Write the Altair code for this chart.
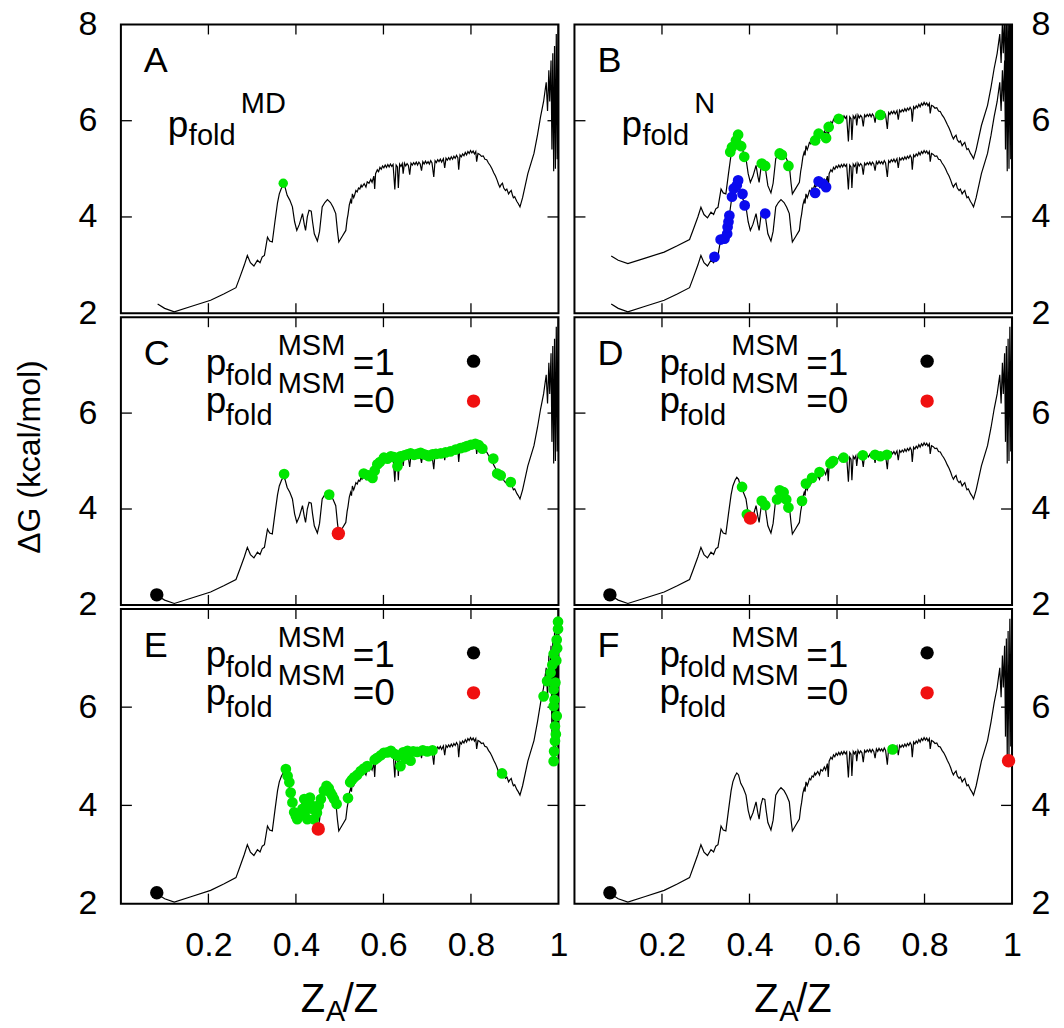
import altair as alt
import pandas as pd

FONT = "Liberation Sans"

# ---- free-energy profile dG(Z_A/Z) (kcal/mol) ----
curve_x = [0.084, 0.100, 0.122, 0.160, 0.205, 0.235, 0.263, 0.272, 0.282, 0.289,
           0.296, 0.304, 0.312, 0.318, 0.323, 0.328, 0.335, 0.340, 0.346, 0.352,
           0.358, 0.362, 0.367, 0.371, 0.375, 0.380, 0.386, 0.392, 0.397, 0.402,
           0.408, 0.415, 0.419, 0.422, 0.426, 0.430, 0.435, 0.438, 0.442, 0.449,
           0.454, 0.460, 0.466, 0.472, 0.479, 0.485, 0.491, 0.495, 0.498, 0.506,
           0.514, 0.517, 0.519, 0.522, 0.525, 0.527, 0.529, 0.532, 0.534, 0.537,
           0.540, 0.543, 0.546, 0.549, 0.551,
           0.556, 0.560, 0.563, 0.567, 0.571, 0.574, 0.578, 0.580, 0.582, 0.586,
           0.589, 0.592, 0.595, 0.598, 0.601, 0.604, 0.607, 0.610, 0.613, 0.616,
           0.619, 0.622, 0.626, 0.629, 0.632, 0.634, 0.637, 0.640, 0.643, 0.645,
           0.648, 0.651, 0.654, 0.657, 0.660, 0.663, 0.666, 0.669, 0.672, 0.675,
           0.678, 0.681, 0.684, 0.687, 0.690, 0.693, 0.696, 0.699, 0.702, 0.705,
           0.708, 0.711, 0.715, 0.718, 0.721, 0.724, 0.727, 0.730, 0.733, 0.737,
           0.740, 0.743, 0.746, 0.749, 0.752, 0.755, 0.758, 0.761, 0.764, 0.767,
           0.770, 0.772, 0.775, 0.778, 0.781, 0.784, 0.787, 0.790, 0.793, 0.796,
           0.799, 0.802, 0.805, 0.808, 0.811, 0.813, 0.816, 0.820, 0.824, 0.828,
           0.832, 0.836, 0.840, 0.844, 0.848, 0.852, 0.856, 0.860, 0.863, 0.866,
           0.869, 0.872, 0.875, 0.879, 0.882, 0.886, 0.889, 0.892, 0.895, 0.897,
           0.900, 0.902, 0.905, 0.908, 0.912, 0.918, 0.930, 0.944, 0.952, 0.959,
           0.966, 0.972, 0.975, 0.978, 0.980, 0.983, 0.985, 0.987, 0.989, 0.991,
           0.993, 0.995, 0.997, 0.999, 1.000]
curve_y = [2.19, 2.10, 2.03, 2.14, 2.27, 2.40, 2.53, 2.75, 3.00, 3.20,
           3.05, 2.98, 3.10, 3.05, 3.17, 3.20, 3.58, 3.50, 3.48, 3.90,
           4.30, 4.48, 4.60, 4.66, 4.62, 4.45, 4.35, 4.21, 3.90, 3.72,
           3.85, 4.07, 3.85, 3.72, 4.00, 4.14, 4.12, 3.90, 3.65, 3.50,
           3.70, 4.21, 4.30, 4.36, 4.30, 4.20, 4.07, 3.70, 3.48, 3.60,
           3.72, 3.95, 4.05, 4.25, 4.35, 4.28, 4.48, 4.40, 4.45, 4.55,
           4.52, 4.60, 4.58, 4.66, 4.62,
           4.69, 4.62, 4.73, 4.70, 4.78, 4.72, 4.85, 4.58, 4.90, 4.98,
           4.94, 5.03, 4.99, 5.06, 5.02, 5.08, 5.03, 5.09, 5.04, 5.10,
           5.05, 5.09, 4.57, 5.08, 5.04, 4.60, 5.10, 5.05, 5.11, 4.90,
           5.12, 5.06, 5.11, 5.07, 4.88, 5.12, 5.08, 5.13, 5.09, 5.14,
           5.08, 5.14, 5.10, 4.96, 5.15, 5.10, 5.16, 5.11, 5.15, 5.10,
           5.17, 5.12, 4.83, 5.17, 5.13, 5.19, 5.15, 5.20, 5.14, 5.21,
           5.02, 5.22, 5.18, 5.23, 5.19, 5.25, 5.20, 5.26, 5.22, 5.28,
           5.23, 4.98, 5.29, 5.25, 5.31, 5.27, 5.34, 5.29, 5.36, 5.32,
           5.38, 5.33, 5.37, 5.31, 5.36, 5.15, 5.32, 5.30, 5.26, 5.27,
           5.20, 5.19, 5.12, 5.07, 5.00, 4.92, 4.85, 4.76, 4.68, 4.62,
           4.67, 4.70, 4.60, 4.55, 4.58, 4.48, 4.52, 4.55, 4.45, 4.40,
           4.42, 4.38, 4.32, 4.28, 4.21, 4.40, 4.90, 5.32, 5.70, 6.08,
           6.40, 6.80, 6.20, 7.05, 6.40, 7.25, 5.40, 7.40, 4.95, 7.55,
           5.00, 7.80, 5.20, 8.00, 5.00]
upper_offset = 1.0  # panel B: same profile drawn again, shifted up by 1 kcal/mol

# ---- axis ticks / labels ----
x_tick_values = [0.2, 0.4, 0.6, 0.8]
x_label_values = [0.2, 0.4, 0.6, 0.8, 1.0]
y_tick_values = [4, 6]
y_labels_top = [2, 4, 6, 8]
y_labels_other = [2, 4, 6]

# ---- points ----
A_green_x = [0.371]
A_green_y = [4.70]

B_green_x = [0.356, 0.360, 0.369, 0.374, 0.381, 0.388, 0.428, 0.436, 0.469, 0.474,
             0.489, 0.550, 0.558, 0.575, 0.581, 0.604, 0.699]
B_green_y = [5.35, 5.45, 5.59, 5.71, 5.47, 5.25, 5.11, 5.06, 5.32, 5.29,
             5.06, 5.59, 5.73, 5.64, 5.87, 6.04, 6.12]
B_blue_x = [0.320, 0.334, 0.343, 0.349, 0.350, 0.352, 0.354, 0.360, 0.364, 0.371,
            0.374, 0.384, 0.389, 0.436, 0.550, 0.558, 0.568, 0.575]
B_blue_y = [3.17, 3.53, 3.55, 3.65, 3.79, 3.90, 4.03, 4.42, 4.59, 4.66,
            4.76, 4.48, 4.24, 4.07, 4.50, 4.74, 4.69, 4.62]

C_green_x = [0.373, 0.476, 0.555, 0.566, 0.575, 0.580, 0.586, 0.592, 0.601, 0.609,
             0.617, 0.624, 0.632, 0.636, 0.639, 0.648, 0.655, 0.662, 0.670, 0.678,
             0.685, 0.693, 0.700, 0.704, 0.712, 0.720, 0.731, 0.742, 0.753, 0.765,
             0.776, 0.785, 0.791, 0.800, 0.810, 0.818, 0.826, 0.851, 0.860, 0.868,
             0.891]
C_green_y = [4.73, 4.30, 4.74, 4.70, 4.65, 4.80, 4.93, 4.98, 5.07, 5.05,
             5.10, 5.08, 4.89, 5.05, 5.10, 5.12, 5.14, 5.16, 5.13, 5.15,
             5.17, 5.14, 5.12, 5.10, 5.14, 5.15, 5.16, 5.18, 5.20, 5.24,
             5.27, 5.29, 5.31, 5.34, 5.36, 5.33, 5.26, 5.05, 4.74, 4.70,
             4.56]
C_black = ([0.082], [2.21])
C_red = ([0.497], [3.49])

D_green_x = [0.383, 0.394, 0.428, 0.436, 0.463, 0.469, 0.478, 0.484, 0.489, 0.520,
             0.529, 0.543, 0.560, 0.585, 0.591, 0.615, 0.659, 0.687, 0.699, 0.714]
D_green_y = [4.46, 3.89, 4.17, 4.08, 4.20, 4.39, 4.35, 4.20, 4.03, 4.17,
             4.53, 4.65, 4.77, 4.95, 5.00, 5.07, 5.12, 5.13, 5.10, 5.13]
D_black = ([0.081], [2.21])
D_red = ([0.402], [3.81])

E_green_x = [0.377, 0.381, 0.385, 0.388, 0.392, 0.396, 0.400, 0.403, 0.409, 0.415,
             0.419, 0.425, 0.432, 0.435, 0.437, 0.441, 0.426, 0.420, 0.448, 0.452,
             0.457, 0.464, 0.470, 0.475, 0.479, 0.483, 0.487, 0.493, 0.519, 0.524,
             0.528, 0.533, 0.540, 0.548, 0.555, 0.563, 0.580, 0.586, 0.594, 0.601,
             0.609, 0.617, 0.625, 0.632, 0.639, 0.645, 0.650, 0.655, 0.662, 0.668,
             0.677, 0.690, 0.700, 0.712, 0.871, 0.999, 0.999, 0.996, 0.989, 0.986,
             0.982, 0.974, 0.989, 0.966, 0.989, 0.996, 0.992, 0.992, 0.989, 0.995,
             0.993, 0.991, 0.994, 0.990, 0.997]
E_green_y = [4.74, 4.60, 4.47, 4.26, 4.06, 3.86, 3.78, 3.72, 3.80, 3.93,
             4.13, 4.10, 4.16, 4.00, 3.93, 3.72, 3.72, 3.85, 3.85, 4.00,
             4.13, 4.30, 4.40, 4.35, 4.26, 4.20, 4.13, 4.03, 4.15, 4.47,
             4.52, 4.57, 4.62, 4.70, 4.75, 4.80, 4.93, 4.97, 5.02, 5.07,
             5.08, 5.11, 5.05, 5.01, 4.80, 5.08, 4.95, 5.11, 4.91, 5.10,
             5.09, 5.12, 5.10, 5.12, 4.65, 7.74, 7.59, 7.37, 7.08, 6.86,
             6.70, 6.53, 6.36, 6.22, 6.02, 5.82, 5.61, 5.31, 4.90, 6.95,
             6.50, 6.15, 5.45, 5.10, 7.20]
E_black = ([0.082], [2.22])
E_red = ([0.451], [3.52])

F_green_x = [0.727]
F_green_y = [5.14]
F_black = ([0.081], [2.22])
F_red = ([0.992], [4.91])

panel_letters = ["A", "B", "C", "D", "E", "F"]
y_title = "\u0394G (kcal/mol)"

GREEN = "#00e600"
BLUE = "#0a0aee"
RED = "#f01010"

W = 438
HEIGHTS = [289, 288, 295]

curve_df = pd.DataFrame({"x": curve_x, "y": curve_y})


def txt(s, x, y, size, **kw):
    return alt.Chart(pd.DataFrame({"t": [s]})).mark_text(
        align=kw.get("align", "left"), baseline=kw.get("baseline", "alphabetic"),
        font=FONT, fontSize=size, color="black", angle=kw.get("angle", 0)
    ).encode(text="t:N", x=alt.value(x), y=alt.value(y))


def dot(color, size, x, y):
    return alt.Chart(pd.DataFrame({"k": [0]})).mark_circle(
        color=color, size=size, opacity=1
    ).encode(x=alt.value(x), y=alt.value(y))


def panel(idx, H, point_sets, upper=False, legend=False, note=None):
    col = idx % 2
    row = idx // 2
    bottom = row == 2
    xs = alt.Scale(domain=[0, 1], nice=False, zero=False)
    ys = alt.Scale(domain=[2, 8], nice=False, zero=False)
    if bottom:
        xaxis = alt.Axis(values=x_label_values,
                         labelExpr="datum.value == 1 ? '1' : format(datum.value, '.1f')",
                         ticks=False, domain=False, grid=False, labelFontSize=34,
                         labelPadding=25, labelFont=FONT, labelColor="black",
                         labelFlush=False, labelOverlap=False, title=None)
    else:
        xaxis = None
    yaxis = alt.Axis(orient="left" if col == 0 else "right",
                     values=y_labels_top if row == 0 else y_labels_other,
                     ticks=False, domain=False, grid=False, labelFontSize=34,
                     labelPadding=24 if col == 0 else 19, labelFont=FONT,
                     labelColor="black", labelFlush=False, labelOverlap=False,
                     title=None)
    X = alt.X("x:Q", scale=xs, axis=xaxis)
    Y = alt.Y("y:Q", scale=ys, axis=yaxis)

    layers = []
    layers.append(alt.Chart(curve_df).mark_line(color="black", strokeWidth=1.2, clip=True)
                  .encode(x=X, y=Y))
    if upper:
        layers.append(alt.Chart(curve_df)
                      .transform_calculate(y=f"datum.y + {upper_offset}")
                      .mark_line(color="black", strokeWidth=1.2, clip=True)
                      .encode(x=X, y=Y))
    xt = alt.Chart(pd.DataFrame({"x": x_tick_values}))
    yt = alt.Chart(pd.DataFrame({"y": y_tick_values}))
    layers += [
        xt.mark_rule(color="black", strokeWidth=1.3).encode(x=X, y=alt.value(0), y2=alt.value(10)),
        xt.mark_rule(color="black", strokeWidth=1.3).encode(x=X, y=alt.value(H), y2=alt.value(H - 10)),
        yt.mark_rule(color="black", strokeWidth=1.3).encode(y=Y, x=alt.value(0), x2=alt.value(11)),
        yt.mark_rule(color="black", strokeWidth=1.3).encode(y=Y, x=alt.value(W), x2=alt.value(W - 11)),
    ]
    for (px, py, color, size) in point_sets:
        layers.append(alt.Chart(pd.DataFrame({"x": px, "y": py}))
                      .mark_circle(color=color, size=size, opacity=1)
                      .encode(x=X, y=Y))
    layers.append(txt(panel_letters[idx], 23, 48, 36))
    if note is not None:
        layers += [txt("p", 47, 113, 37), txt("fold", 68, 121, 29), txt(note, 120, 89, 29)]
    if legend:
        layers += [
            txt("p", 85, 58, 37), txt("fold", 105, 68, 29), txt("MSM", 157, 38, 29),
            txt("=1", 232, 58, 37),
            txt("MSM", 157, 76, 29), txt("p", 85, 96, 37), txt("fold", 105, 108, 29),
            txt("=0", 232, 96, 37),
            dot("black", 180, 353, 44), dot(RED, 180, 353, 84),
        ]
    if idx == 2:
        layers.append(txt(y_title, -91, 140, 32, align="center", baseline="middle", angle=270))
    if bottom:
        layers += [txt("Z", 180, 403, 40), txt("A", 205, 412, 29), txt("/Z", 222, 403, 40)]
    return alt.layer(*layers).properties(width=W, height=H)


G_SIZE = 115
BIG = 180
pA = panel(0, HEIGHTS[0], [(A_green_x, A_green_y, GREEN, 90)], note="MD")
pB = panel(1, HEIGHTS[0], [(B_green_x, B_green_y, GREEN, G_SIZE), (B_blue_x, B_blue_y, BLUE, G_SIZE)],
           upper=True, note="N")
pC = panel(2, HEIGHTS[1], [(C_green_x, C_green_y, GREEN, G_SIZE), (*C_black, "black", BIG),
                           (*C_red, RED, BIG)], legend=True)
pD = panel(3, HEIGHTS[1], [(D_green_x, D_green_y, GREEN, G_SIZE), (*D_black, "black", BIG),
                           (*D_red, RED, BIG)], legend=True)
pE = panel(4, HEIGHTS[2], [(E_green_x, E_green_y, GREEN, G_SIZE), (*E_black, "black", BIG),
                           (*E_red, RED, BIG)], legend=True)
pF = panel(5, HEIGHTS[2], [(F_green_x, F_green_y, GREEN, G_SIZE), (*F_black, "black", BIG),
                           (*F_red, RED, BIG)], legend=True)

chart = alt.concat(pA, pB, pC, pD, pE, pF, columns=2,
                   spacing={"row": 4, "column": 16},
                   bounds="flush", align="each").properties(
    padding={"left": 5, "top": -2, "right": 5, "bottom": 0}
).configure_view(stroke="black", strokeWidth=2)

chart.save("out.html", embed_options={"renderer": "svg", "actions": False})
